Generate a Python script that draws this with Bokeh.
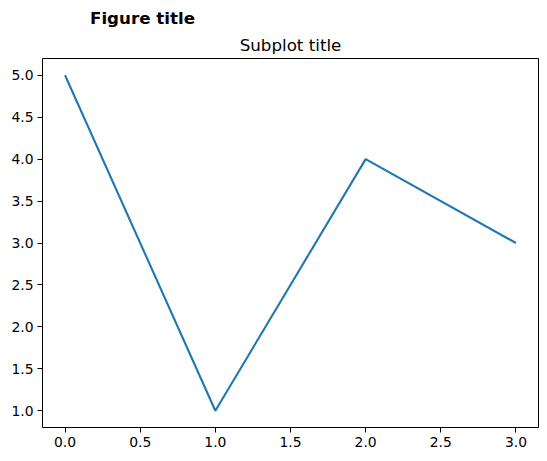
from bokeh.plotting import figure
from bokeh.models import Title, Range1d, FixedTicker, NumeralTickFormatter
from bokeh.embed import file_html
from bokeh.resources import INLINE

x_vals = [0, 1, 2, 3]
y_vals = [5, 1, 4, 3]
x_ticks = [0.0, 0.5, 1.0, 1.5, 2.0, 2.5, 3.0]
y_ticks = [1.0, 1.5, 2.0, 2.5, 3.0, 3.5, 4.0, 4.5, 5.0]

FONT = "DejaVu Sans"

p = figure(frame_width=496, frame_height=369, output_backend="svg", toolbar_location=None,
           x_range=Range1d(-0.15, 3.15), y_range=Range1d(0.8, 5.2),
           min_border_left=42, min_border_right=1, min_border_bottom=10, min_border_top=0,
           title="Figure title")
p.margin = (3, 0, 0, 0)
p.title.align = "left"
p.title.offset = 47.5
p.title.text_font = FONT
p.title.text_font_size = "16.7px"
p.title.text_font_style = "bold"
p.title.text_color = "black"
p.title.standoff = 4

sub = Title(text="Subplot title", align="center", text_font=FONT,
            text_font_size="16.7px", text_font_style="normal", text_color="black", standoff=7)
p.add_layout(sub, "above")

p.line(x_vals, y_vals, line_color="#1f77b4", line_width=2.1)

for ax in (p.xaxis[0], p.yaxis[0]):
    ax.major_label_text_font = FONT
    ax.major_label_text_font_size = "13.9px"
    ax.major_label_text_color = "black"
    ax.axis_line_color = None
    ax.major_tick_line_color = "black"
    ax.major_tick_line_width = 1
    ax.major_tick_out = 5
    ax.major_tick_in = 0
    ax.minor_tick_line_color = None
    ax.major_label_standoff = 4
    ax.formatter = NumeralTickFormatter(format="0.0")
p.xaxis.ticker = FixedTicker(ticks=x_ticks)
p.yaxis.ticker = FixedTicker(ticks=y_ticks)

p.xgrid.grid_line_color = None
p.ygrid.grid_line_color = None
p.outline_line_color = "black"
p.outline_line_width = 1
p.outline_line_alpha = 1
p.background_fill_color = "white"
p.border_fill_color = "white"

open("out.html", "w").write(file_html(p, INLINE))
